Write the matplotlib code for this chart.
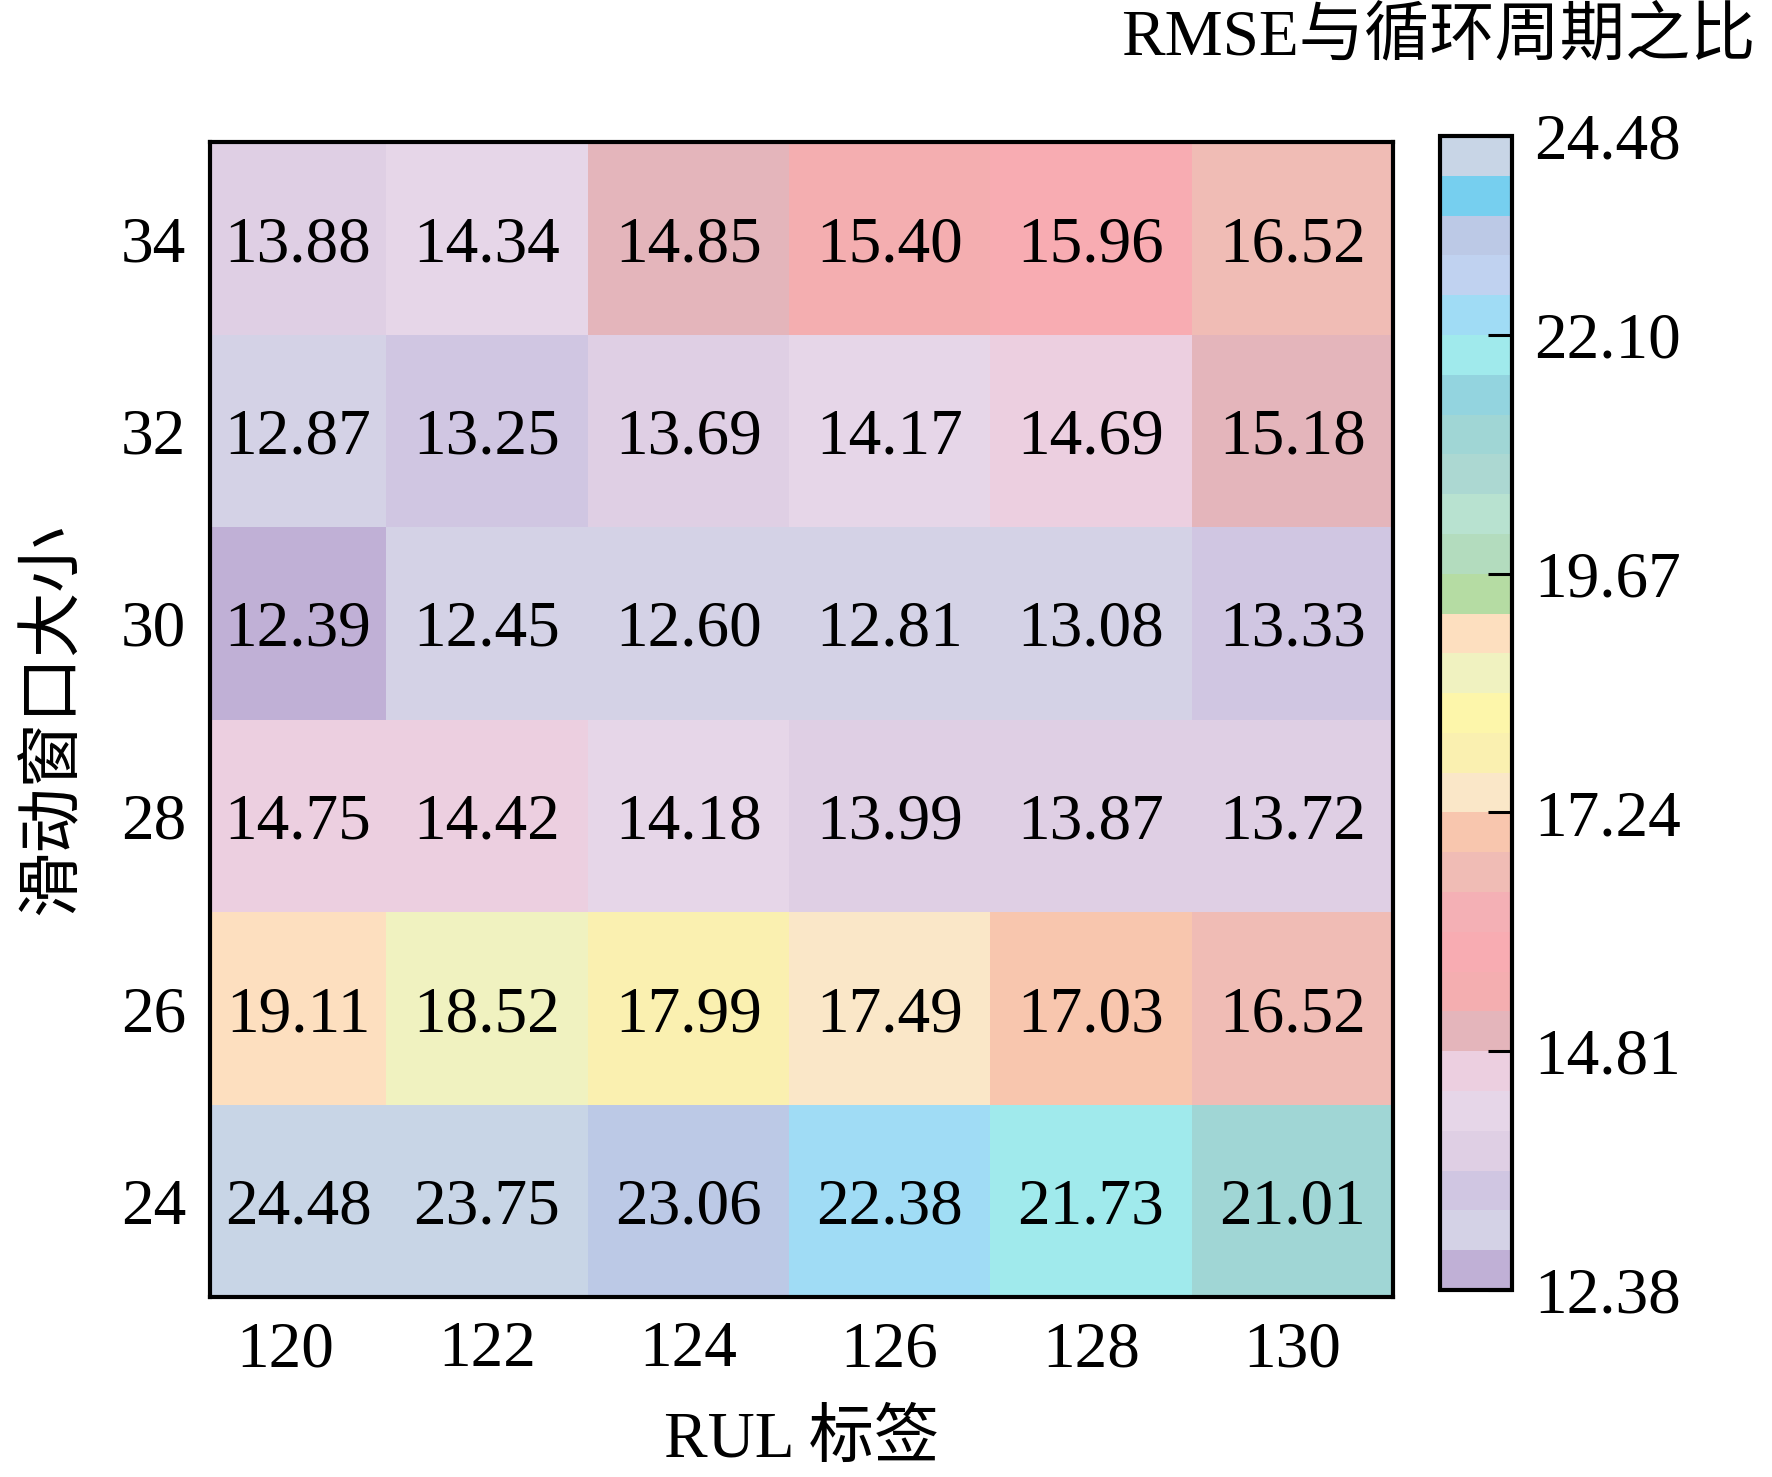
import numpy as np
import matplotlib
matplotlib.use("Agg")
import matplotlib.pyplot as plt
from matplotlib.colors import ListedColormap, BoundaryNorm

plt.rcParams['font.family'] = ['Liberation Serif', 'Noto Sans CJK SC']
plt.rcParams['axes.unicode_minus'] = False

# data: RMSE / cycle ratio for each (window size, RUL label)
rul_labels = [120, 122, 124, 126, 128, 130]
window_sizes = [24, 26, 28, 30, 32, 34]
rmse_w24 = [24.48, 23.75, 23.06, 22.38, 21.73, 21.01]
rmse_w26 = [19.11, 18.52, 17.99, 17.49, 17.03, 16.52]
rmse_w28 = [14.75, 14.42, 14.18, 13.99, 13.87, 13.72]
rmse_w30 = [12.39, 12.45, 12.60, 12.81, 13.08, 13.33]
rmse_w32 = [12.87, 13.25, 13.69, 14.17, 14.69, 15.18]
rmse_w34 = [13.88, 14.34, 14.85, 15.40, 15.96, 16.52]

cbar_ticks = [12.38, 14.81, 17.24, 19.67, 22.10, 24.48]

# discrete palette of the colour bar, bottom -> top
palette = ['#c0b0d6', '#d4d2e6', '#d0c6e2', '#dfcfe4', '#e6d6e8', '#eccfe0',
           '#e4b5bb', '#f4aeb0', '#f8acb2', '#f4b0b5', '#f0bcb5', '#f8c6ae',
           '#fae7c8', '#faf0b0', '#fdf6aa', '#f0f2c0', '#fddfbf', '#b5dca3',
           '#b3dcbe', '#b8e2d0', '#acd8d2', '#a0d6d5', '#93d4df', '#a0eaec',
           '#a0dcf5', '#c0d2f0', '#bcc9e6', '#76cfef', '#c8d5e6']
# colour levels (step ~0.405, like the original colour scale; last level = max)
color_levels = [12.38, 12.42, 13.19, 13.595, 14.00, 14.405,
                14.81, 15.215, 15.62, 16.025, 16.43, 16.835,
                17.24, 17.645, 18.05, 18.455, 18.86, 19.265,
                19.67, 20.075, 20.48, 20.885, 21.29, 21.695,
                22.10, 22.505, 22.91, 23.315, 23.72, 24.48]

grid = np.array([rmse_w24, rmse_w26, rmse_w28, rmse_w30, rmse_w32, rmse_w34])
cmap = ListedColormap(palette)
norm = BoundaryNorm(color_levels, ncolors=len(palette))

x = np.array(rul_labels, dtype=float)
y = np.array(window_sizes, dtype=float)
x_edges = np.append(x - 1, x[-1] + 1)
y_edges = np.append(y - 1, y[-1] + 1)

W, H = 1772, 1477
fig = plt.figure(figsize=(W / 100, H / 100), dpi=100)
ax = fig.add_axes([210 / W, 1 - 1297 / H, 1183 / W, 1155 / H])
mesh = ax.pcolormesh(x_edges, y_edges, grid, cmap=cmap, norm=norm, shading='flat')

x_lo = 119.25
ax.set_xlim(x_lo, x_edges[-1])
ax.set_ylim(y_edges[0], y_edges[-1])

fs = 47
for i, wv in enumerate(y):
    for j, rv in enumerate(x):
        left = max(x_edges[j], x_lo)
        cx = (left + x_edges[j + 1]) / 2
        ax.text(cx, wv, f'{grid[i, j]:.2f}', ha='center', va='center_baseline',
                fontsize=fs, color='black')

ax.set_xticks(x)
ax.set_xticklabels([str(v) for v in rul_labels])
ax.set_yticks(y)
ax.set_yticklabels([str(v) for v in window_sizes])
ax.tick_params(axis='both', length=0, labelsize=fs)
ax.tick_params(axis='x', pad=17)
ax.tick_params(axis='y', pad=17)
for sp in ax.spines.values():
    sp.set_linewidth(3)
ax.set_xlabel('RUL 标签', fontsize=fs, labelpad=22)
ax.set_ylabel('滑动窗口大小', fontsize=fs, labelpad=26)

cax = fig.add_axes([1440 / W, 1 - 1290 / H, 72 / W, 1154 / H])
cb = fig.colorbar(mesh, cax=cax, spacing='uniform')
cb.set_ticks(cbar_ticks)
cb.set_ticklabels([f'{t:.2f}' for t in cbar_ticks])
cb.ax.minorticks_off()
cb.outline.set_linewidth(3)
cax.tick_params(direction='in', length=17, width=2.2, labelsize=fs, pad=16)

fig.text(1756 / W, 1 - 8 / H, 'RMSE与循环周期之比', ha='right', va='top', fontsize=fs)

fig.savefig('out.png', dpi=100, facecolor='white')
